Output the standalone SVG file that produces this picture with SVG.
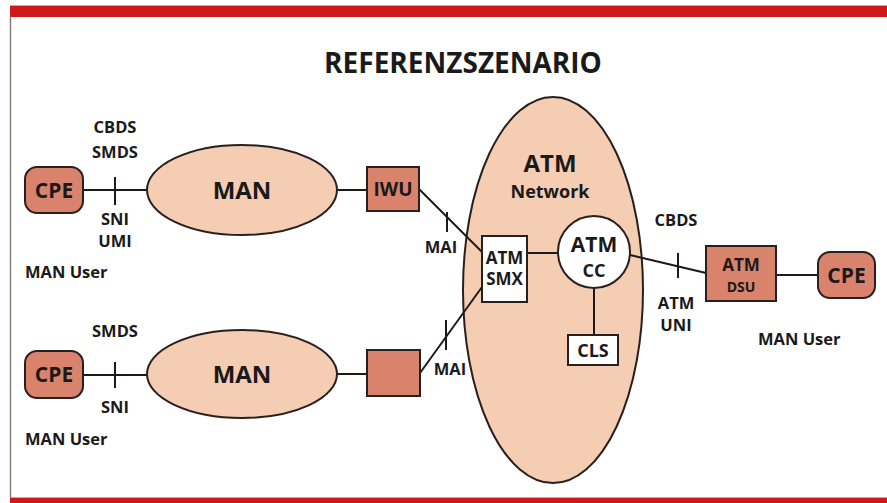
<svg xmlns="http://www.w3.org/2000/svg" width="887" height="503" viewBox="0 0 887 503">
<style>
text{font-family:"Open Sans","Noto Sans","Liberation Sans",sans-serif;font-weight:700;fill:#1a1a1a;text-anchor:middle}
.lbl{font-size:16.5px}
.dark{fill:#d9826c;stroke:#2a1f1f;stroke-width:2}
.light{fill:#f4cdb3;stroke:#2a1f1f;stroke-width:2}
.white{fill:#ffffff;stroke:#2a1f1f;stroke-width:2}
.ln{stroke:#1f1a1a;stroke-width:2;fill:none}
</style>
<rect x="0" y="0" width="887" height="503" fill="#ffffff"/>
<rect x="10" y="5" width="877" height="12" fill="#cc1919"/>
<line x1="10" y1="5.5" x2="887" y2="5.5" stroke="#e9a94a" stroke-width="1"/>
<rect x="10" y="498" width="877" height="5" fill="#cc1919"/>
<line x1="10" y1="497.5" x2="887" y2="497.5" stroke="#e9a94a" stroke-width="1"/>
<line x1="10.5" y1="17" x2="10.5" y2="498" stroke="#8a7f7a" stroke-width="1.5"/>
<text x="463" y="73" font-size="28">REFERENZSZENARIO</text>

<g id="atm-network">
<ellipse class="light" cx="553" cy="290" rx="90" ry="193"/>
<text x="550" y="172" font-size="24">ATM</text>
<text x="550" y="198" font-size="18">Network</text>
</g>

<g id="connectors">
<line class="ln" x1="83" y1="190" x2="148" y2="190"/>
<line class="ln" x1="115" y1="177" x2="115" y2="205"/>
<line class="ln" x1="337" y1="190" x2="367" y2="190"/>
<line class="ln" x1="419" y1="189" x2="482" y2="252"/>
<line class="ln" x1="447" y1="212" x2="447" y2="232"/>
<line class="ln" x1="83" y1="375" x2="148" y2="375"/>
<line class="ln" x1="115" y1="362" x2="115" y2="388"/>
<line class="ln" x1="337" y1="374" x2="367" y2="374"/>
<line class="ln" x1="420" y1="373" x2="482" y2="287"/>
<line class="ln" x1="446" y1="320" x2="446" y2="350"/>
<line class="ln" x1="527" y1="253" x2="558" y2="253"/>
<line class="ln" x1="594" y1="288" x2="594" y2="335"/>
<line class="ln" x1="630" y1="255" x2="706" y2="273"/>
<line class="ln" x1="678" y1="253" x2="678" y2="278"/>
<line class="ln" x1="776" y1="275" x2="818" y2="275"/>
</g>

<g id="cpe1">
<rect class="dark" x="25" y="167" width="58" height="46" rx="12"/>
<text x="54" y="198" font-size="21">CPE</text>
</g>
<g id="labels1">
<text class="lbl" x="115" y="133">CBDS</text>
<text class="lbl" x="115" y="158">SMDS</text>
<text class="lbl" x="115" y="225">SNI</text>
<text class="lbl" x="115" y="247">UMI</text>
<text class="lbl" x="25" y="278" style="text-anchor:start">MAN User</text>
</g>
<g id="man1">
<ellipse class="light" cx="242" cy="190" rx="95" ry="45"/>
<text x="242" y="199" font-size="24">MAN</text>
</g>
<g id="iwu">
<rect class="dark" x="367" y="167" width="52" height="44"/>
<text x="393" y="196" font-size="19">IWU</text>
</g>
<text class="lbl" x="441" y="253">MAI</text>

<g id="cpe2">
<rect class="dark" x="25" y="351" width="58" height="47" rx="12"/>
<text x="54" y="382" font-size="21">CPE</text>
</g>
<g id="labels2">
<text class="lbl" x="115" y="337">SMDS</text>
<text class="lbl" x="115" y="413">SNI</text>
<text class="lbl" x="25" y="445" style="text-anchor:start">MAN User</text>
</g>
<g id="man2">
<ellipse class="light" cx="242" cy="374" rx="95" ry="44"/>
<text x="242" y="383" font-size="24">MAN</text>
</g>
<g id="iwu2">
<rect class="dark" x="367" y="350" width="53" height="46"/>
</g>
<text class="lbl" x="450" y="375">MAI</text>

<g id="smx">
<rect class="white" x="482" y="236" width="45" height="66"/>
<text x="504.5" y="264" font-size="17">ATM</text>
<text x="504.5" y="285" font-size="17">SMX</text>
</g>
<g id="cc">
<circle class="white" cx="594" cy="252" r="36"/>
<text x="594" y="252" font-size="21">ATM</text>
<text x="594" y="277" font-size="18">CC</text>
</g>
<g id="cls">
<rect class="white" x="568" y="335" width="50" height="30"/>
<text x="593" y="357" font-size="18">CLS</text>
</g>

<g id="labels3">
<text class="lbl" x="676" y="226">CBDS</text>
<text class="lbl" x="676" y="309">ATM</text>
<text class="lbl" x="676" y="331">UNI</text>
<text class="lbl" x="758" y="345" style="text-anchor:start">MAN User</text>
</g>
<g id="dsu">
<rect class="dark" x="706" y="246" width="70" height="55"/>
<text x="741" y="271" font-size="17">ATM</text>
<text x="741" y="292" font-size="14">DSU</text>
</g>
<g id="cpe3">
<rect class="dark" x="818" y="252" width="57" height="46" rx="12"/>
<text x="846.5" y="283" font-size="21">CPE</text>
</g>
</svg>
